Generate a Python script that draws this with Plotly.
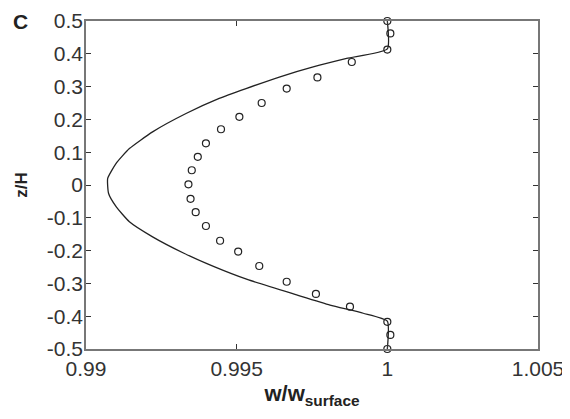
import plotly.graph_objects as go

# Measured profile (open circles)
z_meas = [0.5, 0.462, 0.413, 0.375, 0.328, 0.294, 0.250, 0.208, 0.170, 0.127,
          0.086, 0.045, 0.002, -0.042, -0.083, -0.125, -0.170, -0.203, -0.247,
          -0.295, -0.332, -0.371, -0.417, -0.457, -0.5]
w_meas = [1.0, 1.0001, 1.0, 0.99882, 0.99768, 0.99666, 0.99583, 0.99509, 0.99448,
          0.99398, 0.99371, 0.99351, 0.9934, 0.99347, 0.99364, 0.99398, 0.99445,
          0.99505, 0.99575, 0.99666, 0.99763, 0.99876, 1.0, 1.0001, 1.0]

# Model profile (solid line)
z_model = [0.5, 0.415, 0.386, 0.36, 0.33, 0.294, 0.264, 0.218, 0.162, 0.111,
           0.066, 0.02, -0.026, -0.066, -0.112, -0.158, -0.208, -0.249, -0.288,
           -0.335, -0.366, -0.391, -0.415, -0.5]
w_model = [1.0, 1.0, 0.99865, 0.99754, 0.99644, 0.99531, 0.99442, 0.99332,
           0.99221, 0.99144, 0.991, 0.99072, 0.99075, 0.991, 0.99144, 0.99221,
           0.99325, 0.99425, 0.99535, 0.99699, 0.9981, 0.9992, 1.0, 1.0]

x_ticks = [0.99, 0.995, 1.0, 1.005]
x_ticktext = ["0.99", "0.995", "1", "1.005"]
y_ticks = [0.5, 0.4, 0.3, 0.2, 0.1, 0.0, -0.1, -0.2, -0.3, -0.4, -0.5]
y_ticktext = ["0.5", "0.4", "0.3", "0.2", "0.1", "0", "-0.1", "-0.2", "-0.3", "-0.4", "-0.5"]

FONT = "Liberation Sans, Arial, sans-serif"

fig = go.Figure()
fig.add_trace(go.Scatter(x=w_model, y=z_model, mode="lines",
                         line=dict(color="#222222", width=1.3, shape="spline", smoothing=0.5),
                         showlegend=False, cliponaxis=False))
fig.add_trace(go.Scatter(x=w_meas, y=z_meas, mode="markers",
                         marker=dict(symbol="circle-open", size=7, color="#222222",
                                     line=dict(color="#222222", width=1.2)),
                         showlegend=False, cliponaxis=False))

tickfont = dict(family=FONT, size=21, color="#333333")

# page body adds an 8px offset, so the figure is 8px smaller and margins shifted
fig.update_layout(
    width=562, height=411,
    margin=dict(l=78, r=32, t=13, b=70, autoexpand=False),
    paper_bgcolor="white", plot_bgcolor="white",
    xaxis=dict(range=[0.99, 1.005], tickvals=x_ticks, ticktext=x_ticktext,
               ticks="inside", ticklen=5, tickcolor="#333333", tickwidth=1,
               showline=True, linecolor="#777777", linewidth=1.5, mirror="ticks",
               showgrid=False, zeroline=False, tickfont=tickfont, automargin=False,
               title=dict(text="<b>w/w<sub>surface</sub></b>",
                          font=dict(family=FONT, size=22, color="#222222"),
                          standoff=7)),
    yaxis=dict(range=[-0.5, 0.5], tickvals=y_ticks, ticktext=y_ticktext,
               ticks="inside", ticklen=5, tickcolor="#333333", tickwidth=1,
               showline=True, linecolor="#777777", linewidth=1.5, mirror="ticks",
               showgrid=False, zeroline=False, tickfont=tickfont, automargin=False,
               ticklabelstandoff=-3,
               title=dict(text="<b>z/H</b>",
                          font=dict(family=FONT, size=17, color="#222222"),
                          standoff=15)),
    annotations=[dict(text="<b>C</b>", xref="paper", yref="paper", x=-0.165, y=1.0,
                      xanchor="left", yanchor="middle", showarrow=False,
                      font=dict(family=FONT, size=21, color="#222222"))],
)

fig.write_html("out.html")
